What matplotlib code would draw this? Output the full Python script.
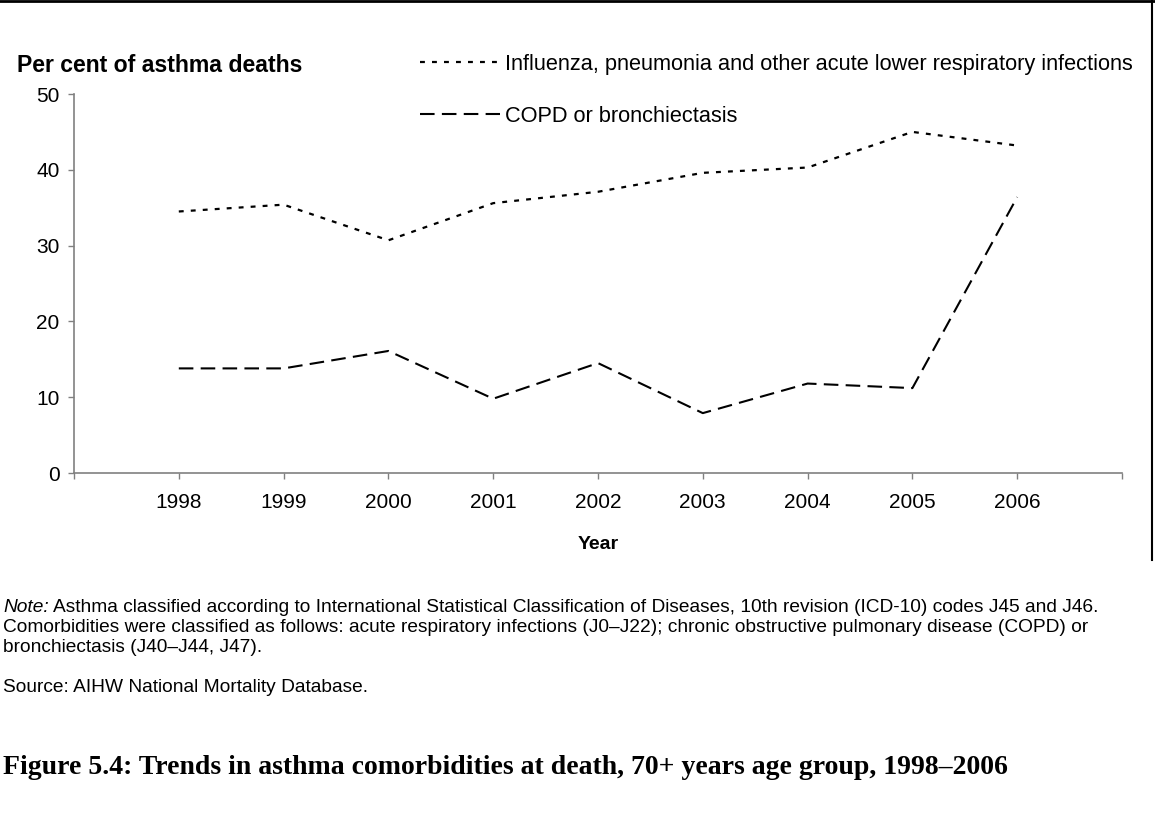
import matplotlib.pyplot as plt
from matplotlib.lines import Line2D

plt.rcParams['font.family'] = ['Liberation Sans', 'DejaVu Sans']

# data
years = [1998, 1999, 2000, 2001, 2002, 2003, 2004, 2005, 2006]
influenza = [34.5, 35.4, 30.7, 35.6, 37.1, 39.6, 40.3, 45.0, 43.2]
copd = [13.8, 13.8, 16.1, 9.8, 14.5, 7.9, 11.8, 11.2, 36.4]
influenza_label = 'Influenza, pneumonia and other acute lower respiratory infections'
copd_label = 'COPD or bronchiectasis'
yticks = [0, 10, 20, 30, 40, 50]

W, H = 1155, 813
fig = plt.figure(figsize=(W / 100, H / 100), dpi=100)
ax = fig.add_axes([74 / W, 1 - 473 / H, 1048 / W, 379 / H])

ax.plot(years, influenza, color='black', lw=1.6, linestyle=(0, (2.2, 3.2)),
        label=influenza_label)
ax.plot(years, copd, color='black', lw=1.5, linestyle=(0, (7, 3.5)),
        label=copd_label)

ax.set_xlim(years[0] - 1, years[-1] + 1)
ax.set_ylim(0, 50)
ax.set_yticks(yticks)
xt = [years[0] - 1] + years + [years[-1] + 1]
ax.set_xticks(xt)
ax.set_xticklabels([''] + [str(y) for y in years] + [''])

for s in ['top', 'right']:
    ax.spines[s].set_visible(False)
for s in ['left', 'bottom']:
    ax.spines[s].set_color('#808080')
    ax.spines[s].set_linewidth(1.2)
ax.tick_params(axis='both', direction='out', length=4.5, width=1,
               color='#808080', labelsize=15)
ax.tick_params(axis='y', pad=6)
ax.tick_params(axis='x', pad=10)
ax.set_xlabel('Year', fontsize=14, fontweight='bold', labelpad=17)

fig.text(17 / W, 1 - 65 / H, 'Per cent of asthma deaths', fontsize=16.6,
         fontweight='bold', ha='left', va='center')

leg = ax.legend(loc='upper left', bbox_to_anchor=(420 / W, 1 - 54 / H),
                bbox_transform=fig.transFigure, frameon=False, fontsize=15.7,
                borderpad=0, borderaxespad=0, handlelength=3.65,
                handletextpad=0.25, labelspacing=1.4)

# frame around the chart
fig.add_artist(Line2D([0, 1], [1 - 1.5 / H, 1 - 1.5 / H], color='black',
                      lw=2, transform=fig.transFigure))
fig.add_artist(Line2D([1152 / W, 1152 / W], [1, 1 - 560 / H], color='black',
                      lw=1.5, transform=fig.transFigure))

fs = 13.75
t = fig.text(3 / W, 1 - 607 / H, 'Note:', fontsize=fs, style='italic',
             ha='left', va='center')
fig.canvas.draw()
bb = t.get_window_extent()
fig.text((bb.x1 + 4) / W, 1 - 607 / H,
         'Asthma classified according to International Statistical '
         'Classification of Diseases, 10th revision (ICD-10) codes J45 and J46.',
         fontsize=fs, ha='left', va='center')
fig.text(3 / W, 1 - 627 / H,
         'Comorbidities were classified as follows: acute respiratory infections '
         '(J0\u2013J22); chronic obstructive pulmonary disease (COPD) or',
         fontsize=fs, ha='left', va='center')
fig.text(3 / W, 1 - 647 / H, 'bronchiectasis (J40\u2013J44, J47).',
         fontsize=fs, ha='left', va='center')
fig.text(3 / W, 1 - 687 / H, 'Source: AIHW National Mortality Database.',
         fontsize=fs, ha='left', va='center')
fig.text(3 / W, 1 - 767 / H,
         'Figure 5.4: Trends in asthma comorbidities at death, 70+ years age '
         'group, 1998\u20132006',
         fontsize=20, fontweight='bold', family=['Liberation Serif'],
         ha='left', va='center')

fig.savefig('out.png', dpi=100)
